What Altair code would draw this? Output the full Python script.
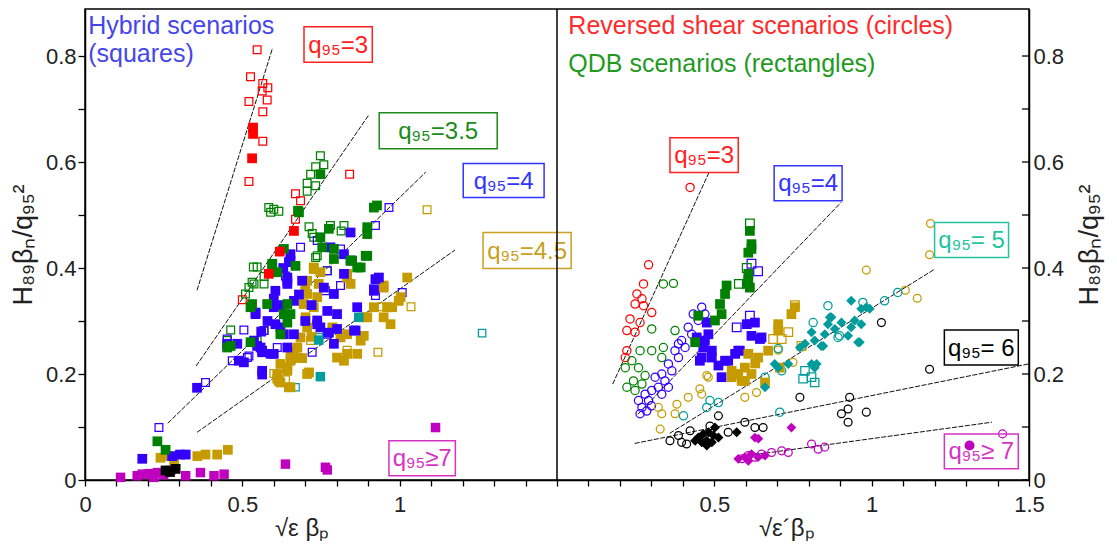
import altair as alt
import pandas as pd

FONT = "Liberation Sans"
PW, H = 472, 471            # one panel width, plot height
W = 2 * PW
XMAX, YMAX = 3.0, 0.8887    # two panels of 0..1.5 side by side
SHIFT = 1.5                 # right panel is drawn 1.5 units to the right

RED, GREEN, BLUE, GOLD = "#ff0000", "#008000", "#3300ff", "#c59b00"
TEAL, MAG, BLACK = "#009c9c", "#bf00bf", "#000000"

# ---------------- left panel (hybrid, squares) ----------------
L_red_open = [(0.547,0.812),(0.526,0.761),(0.565,0.748),(0.581,0.740),(0.563,0.734),(0.579,0.717),
              (0.521,0.714),(0.565,0.695),(0.565,0.639),(0.521,0.563),(0.841,0.577),(0.669,0.540),
              (0.685,0.527),(0.669,0.492),(0.500,0.340)]
L_red_fill = [(0.534,0.653),(0.534,0.665),(0.531,0.607),(0.664,0.470),(0.619,0.431),(0.584,0.389)]
L_green_open = [(0.748,0.612),(0.759,0.595),(0.733,0.591),(0.717,0.577),(0.706,0.560),(0.733,0.555),
                (0.706,0.545),(0.584,0.514),(0.600,0.511),(0.616,0.507),(0.590,0.505),(0.712,0.478),
                (0.780,0.480),(0.814,0.470),(0.727,0.458),(0.733,0.420),(0.547,0.402),(0.569,0.384),
                (0.531,0.373),(0.521,0.363),(0.510,0.351),(0.463,0.283),(0.569,0.282),(0.547,0.263),
                (0.452,0.263),(0.722,0.465),(0.823,0.480),(0.738,0.423),(0.770,0.395),(0.535,0.402),
                (0.537,0.370),(0.569,0.370)]
L_green_fill = [(0.748,0.577),(0.680,0.505),(0.775,0.474),(0.748,0.458),(0.918,0.514),(0.897,0.464),
                (0.897,0.423),(0.849,0.414),(0.876,0.401),(0.791,0.417),(0.754,0.439),(0.632,0.436),
                (0.595,0.404),(0.611,0.392),(0.531,0.332),(0.526,0.260),(0.643,0.332),(0.632,0.313),
                (0.643,0.297),(0.621,0.275),(0.463,0.253),(0.928,0.518),(0.677,0.508),(0.897,0.477),
                (0.595,0.408),(0.452,0.250),(0.230,0.073),(0.256,0.057),(0.791,0.436),(0.844,0.414),
                (0.892,0.423),(0.865,0.401),(0.669,0.404),(0.526,0.326),(0.653,0.313),(0.579,0.332)]
L_blue_fill = [(0.356,0.174),(0.182,0.040),(0.277,0.045),(0.302,0.048),(0.320,0.048),(0.563,0.199),
               (0.489,0.225),(0.452,0.253),(0.484,0.257),(0.547,0.253),(0.563,0.244),(0.542,0.316),
               (0.600,0.342),(0.648,0.411),(0.605,0.294),(0.632,0.275),(0.600,0.238),(0.643,0.370),
               (0.537,0.263),(0.563,0.241),(0.542,0.313),(0.600,0.326),(0.605,0.357),(0.643,0.376),
               (0.664,0.338),(0.621,0.288),(0.664,0.275),(0.643,0.250),(0.590,0.238),(0.690,0.376),
               (0.759,0.363),(0.791,0.351),(0.738,0.301),(0.748,0.288),(0.801,0.313),(0.823,0.426),
               (0.844,0.467),(0.653,0.426),(0.844,0.414),(0.865,0.326),(0.860,0.282),(0.934,0.382),
               (0.918,0.357),(0.823,0.389),(0.791,0.257),(0.563,0.206),(0.505,0.222),(0.452,0.257),
               (0.923,0.379),(0.918,0.360),(0.801,0.285),(0.775,0.278),(0.738,0.294),(0.770,0.319),
               (0.653,0.414),(0.643,0.382),(0.558,0.250),(0.855,0.282),(0.780,0.439),(0.620,0.330),
               (0.580,0.300),(0.700,0.300),(0.680,0.350),(0.720,0.330),(0.560,0.280),(0.630,0.400)]
L_blue_open = [(0.235,0.099),(0.383,0.184),(0.505,0.283),(0.468,0.225),(0.516,0.231),(0.452,0.266),
               (0.637,0.385),(0.966,0.514),(0.923,0.480),(0.685,0.439),(0.738,0.452),(0.812,0.436),
               (0.770,0.395),(0.764,0.357),(0.812,0.367),(1.008,0.354),(0.923,0.348),(0.722,0.241),
               (0.770,0.275),(0.611,0.250),(0.521,0.234),(0.569,0.282)]
L_gold_fill = [(0.240,0.042),(0.283,0.036),(0.357,0.045),(0.383,0.048),(0.420,0.048),(0.454,0.057),
               (0.621,0.219),(0.653,0.225),(0.611,0.191),(0.648,0.175),(0.664,0.244),(0.727,0.398),
               (0.748,0.392),(0.706,0.376),(0.743,0.370),(0.706,0.351),(0.738,0.345),(0.695,0.332),
               (0.727,0.326),(0.701,0.307),(0.706,0.288),(0.685,0.269),(0.675,0.250),(0.653,0.238),
               (0.643,0.206),(0.616,0.187),(0.653,0.175),(0.706,0.200),(0.833,0.389),(0.844,0.370),
               (0.812,0.269),(0.833,0.275),(0.876,0.263),(0.865,0.238),(0.833,0.238),(0.801,0.231),
               (0.897,0.307),(0.949,0.363),(0.960,0.326),(0.971,0.294),(1.024,0.382),(1.003,0.345),
               (0.786,0.288),(0.997,0.338),(0.976,0.326),(0.918,0.326),(0.949,0.307),(0.886,0.307),
               (0.886,0.272),(0.823,0.225),(0.643,0.213),(0.611,0.200),(0.621,0.184),(0.712,0.203),
               (0.675,0.231),(0.727,0.401),(0.833,0.382),(0.949,0.367),(0.270,0.045),(0.690,0.230),
               (0.720,0.270),(0.700,0.360)]
L_gold_open = [(1.087,0.510),(1.036,0.327),(0.931,0.241),(0.944,0.327),(0.833,0.245),(0.717,0.263),
               (0.801,0.313),(0.600,0.201),(0.637,0.189),(0.759,0.363)]
L_teal_fill = [(0.748,0.195),(0.870,0.307),(0.743,0.264)]
L_teal_open = [(1.262,0.277),(0.669,0.175),(0.743,0.269)]
L_mag_fill = [(0.113,0.005),(0.166,0.008),(0.182,0.011),(0.198,0.011),(0.219,0.005),(0.230,0.014),
              (0.272,0.018),(0.320,0.008),(0.367,0.014),(0.410,0.008),(0.442,0.011),(0.637,0.030),
              (0.764,0.024),(0.770,0.019),(1.114,0.099),(0.205,0.012),(0.250,0.010)]
L_black_fill = [(0.256,0.018),(0.288,0.021),(0.270,0.015)]

# ---------------- right panel (reversed shear circles, QDB rectangles) ----------------
R_red_circ = [(0.423,0.552),(0.291,0.406),(0.275,0.370),(0.254,0.351),(0.270,0.342),(0.248,0.332),
              (0.275,0.329),(0.301,0.316),(0.232,0.304),(0.264,0.297),(0.222,0.282),(0.248,0.279),
              (0.222,0.244),(0.217,0.231)]
R_green_circ = [(0.338,0.370),(0.370,0.371),(0.301,0.285),(0.375,0.282),(0.338,0.250),(0.301,0.244),
                (0.264,0.244),(0.333,0.231),(0.238,0.225),(0.217,0.212),(0.259,0.212),(0.280,0.197),
                (0.243,0.187),(0.222,0.175),(0.248,0.169),(0.270,0.181)]
R_blue_circ = [(0.460,0.326),(0.433,0.313),(0.449,0.301),(0.417,0.288),(0.428,0.275),(0.396,0.263),
               (0.407,0.250),(0.375,0.244),(0.386,0.231),(0.354,0.219),(0.365,0.206),(0.333,0.200),
               (0.343,0.187),(0.312,0.194),(0.322,0.175),(0.301,0.169),(0.280,0.162),(0.291,0.150),
               (0.259,0.150),(0.270,0.137),(0.264,0.125),(0.333,0.162),(0.354,0.175),(0.386,0.257),
               (0.470,0.313),(0.300,0.140),(0.285,0.130)]
R_blue_sq_fill = [(0.476,0.297),(0.481,0.275),(0.465,0.250),(0.460,0.231),(0.492,0.231),(0.513,0.216),
                  (0.534,0.225),(0.566,0.238),(0.581,0.244),(0.618,0.272),(0.629,0.297),(0.645,0.266),
                  (0.603,0.294),(0.523,0.194),(0.444,0.269),(0.470,0.263),(0.492,0.244),(0.454,0.225),
                  (0.650,0.269),(0.576,0.244),(0.544,0.225)]
R_blue_sq_open = [(0.618,0.408),(0.639,0.394),(0.571,0.288),(0.613,0.310)]
R_green_sq_fill = [(0.613,0.470),(0.618,0.436),(0.608,0.429),(0.539,0.367),(0.608,0.376),(0.613,0.363),
                   (0.608,0.389),(0.603,0.370),(0.534,0.351),(0.518,0.332),(0.523,0.313),(0.502,0.301),
                   (0.449,0.310),(0.439,0.260),(0.618,0.445)]
R_green_sq_open = [(0.613,0.484),(0.603,0.400),(0.578,0.370)]
R_gold_sq_fill = [(0.756,0.326),(0.745,0.313),(0.703,0.294),(0.703,0.282),(0.671,0.244),(0.639,0.231),
                  (0.608,0.238),(0.597,0.212),(0.576,0.200),(0.618,0.200),(0.597,0.187),(0.555,0.206),
                  (0.661,0.184),(0.708,0.212),(0.555,0.194),(0.587,0.187),(0.630,0.220)]
R_gold_sq_open = [(0.756,0.330),(0.735,0.279),(0.714,0.266),(0.687,0.266),(0.777,0.253)]
R_gold_circ = [(1.187,0.484),(1.184,0.425),(0.983,0.396),(1.107,0.358),(1.145,0.343),(0.750,0.222),
               (0.703,0.245),(0.597,0.156),(0.634,0.165),(0.481,0.194),(0.454,0.172),(0.476,0.197),
               (0.460,0.162),(0.417,0.156),(0.381,0.143),(0.375,0.125),(0.322,0.137),(0.333,0.125),
               (0.328,0.096)]
R_teal_dia = [(0.935,0.338),(0.967,0.323),(0.983,0.326),(0.946,0.301),(0.967,0.294),(0.935,0.288),
              (0.925,0.272),(0.957,0.260),(0.872,0.307),(0.861,0.294),(0.883,0.285),(0.851,0.275),
              (0.809,0.279),(0.840,0.253),(0.819,0.263),(0.788,0.257),(0.772,0.250),(0.809,0.219),
              (0.819,0.212),(0.703,0.212),(0.661,0.175),(0.904,0.297),(0.994,0.323),(0.962,0.260),
              (0.846,0.253),(0.867,0.307),(0.825,0.219),(0.735,0.219),(0.692,0.219)]
R_teal_circ = [(0.861,0.329),(0.972,0.335),(1.041,0.338),(1.083,0.354),(0.893,0.269),(0.814,0.297),
               (0.714,0.206),(0.708,0.128),(0.486,0.150),(0.513,0.146),(0.476,0.137),(0.898,0.272),
               (0.402,0.121),(0.661,0.194),(0.703,0.248)]
R_teal_sq_open = [(0.788,0.206),(0.809,0.194),(0.782,0.191),(0.819,0.184)]
R_black_circ = [(0.359,0.074),(0.386,0.084),(0.396,0.071),(0.423,0.093),(0.412,0.068),(0.486,0.102),
                (0.513,0.121),(0.544,0.090),(0.597,0.109),(0.629,0.099),(0.655,0.099),(0.772,0.156),
                (1.031,0.297),(1.184,0.209),(0.930,0.156),(0.983,0.128),(0.925,0.134),(0.904,0.125),
                (0.925,0.109)]
R_black_dia = [(0.449,0.080),(0.465,0.087),(0.481,0.090),(0.497,0.084),(0.513,0.080),(0.476,0.074),
               (0.460,0.071),(0.492,0.071),(0.476,0.065),(0.439,0.074),(0.571,0.090),(0.502,0.099)]
R_mag_circ = [(0.587,0.040),(0.608,0.046),(0.629,0.043),(0.650,0.049),(0.682,0.052),(0.714,0.055),
              (0.735,0.052),(0.809,0.068),(0.830,0.058),(0.851,0.062),(1.416,0.087)]
R_mag_dia = [(0.576,0.040),(0.597,0.043),(0.618,0.049),(0.639,0.043),(0.661,0.046),(0.629,0.080),
             (0.745,0.099),(0.608,0.036),(0.640,0.078)]
R_mag_dot = [(1.311,0.065)]

# fitted scaling lines (end points)
L_fit_ids = ["3", "3", "3.5", "3.5", "4", "4", "4.5", "4.5"]
L_fit_x = [0.356, 0.596, 0.353, 0.901, 0.263, 1.083, 0.356, 1.176]
L_fit_y = [0.358, 0.815, 0.215, 0.688, 0.107, 0.581, 0.090, 0.434]
R_fit_ids = ["3", "3", "4", "4", "5", "5", "6", "6", "7", "7"]
R_fit_x = [0.177, 0.482, 0.257, 0.903, 0.358, 1.201, 0.247, 1.499, 0.580, 1.382]
R_fit_y = [0.181, 0.579, 0.124, 0.524, 0.088, 0.398, 0.069, 0.219, 0.044, 0.109]

# boxed labels
L_box_text = ["q₉₅=3", "q₉₅=3.5", "q₉₅=4", "q₉₅=4.5", "q₉₅≥7"]
L_box_color = ["#ff2020", "#1a8c1a", "#3333ff", "#c8a020", "#d633c4"]
L_box_x0 = [0.696, 0.935, 1.202, 1.265, 0.966]
L_box_x1 = [0.913, 1.310, 1.459, 1.545, 1.177]
L_box_y0 = [0.788, 0.625, 0.533, 0.399, 0.008]
L_box_y1 = [0.855, 0.693, 0.597, 0.467, 0.074]
R_box_text = ["q₉₅=3", "q₉₅=4", "q₉₅= 5", "q₉₅= 6", "q₉₅≥ 7"]
R_box_color = ["#ff2020", "#3333ff", "#22c4a0", "#000000", "#d633c4"]
R_box_x0 = [0.359, 0.690, 1.200, 1.231, 1.231]
R_box_x1 = [0.576, 0.906, 1.435, 1.466, 1.466]
R_box_y0 = [0.580, 0.527, 0.420, 0.217, 0.021]
R_box_y1 = [0.646, 0.593, 0.486, 0.283, 0.087]

L_head_text = ["Hybrid scenarios", "(squares)"]
L_head_color = ["#4646ec", "#4646ec"]
L_head_x = [0.010, 0.010]
L_head_y = [0.8415, 0.788]
R_head_text = ["Reversed shear scenarios (circles)", "QDB scenarios (rectangles)"]
R_head_color = ["#ff2a2a", "#1f9a1f"]
R_head_x = [0.036, 0.036]
R_head_y = [0.8415, 0.769]

X_TITLES = ["√ε βₚ", "√ε´βₚ"]
X_TITLE_POS = [0.69, 0.73]     # centre of each title in its own panel's units

X_TICKS = [0, 0.1, 0.2, 0.3, 0.4, 0.5, 0.6, 0.7, 0.8, 0.9, 1, 1.1, 1.2, 1.3, 1.4, 1.5,
           1.6, 1.7, 1.8, 1.9, 2, 2.1, 2.2, 2.3, 2.4, 2.5, 2.6, 2.7, 2.8, 2.9, 3]
Y_TICKS = [0, 0.1, 0.2, 0.3, 0.4, 0.5, 0.6, 0.7, 0.8]
Y_TITLE = "H₈₉βₙ/q₉₅²"

XLABEL_EXPR = ("datum.value == 0 ? '0' : datum.value == 0.5 ? '0.5' : datum.value == 1 ? '1' : "
               "datum.value == 2 ? '0.5' : datum.value == 2.5 ? '1' : datum.value == 3 ? '1.5' : ''")
YLABEL_EXPR = ("(datum.value == 0 || datum.value == 0.2 || datum.value == 0.4 || "
               "datum.value == 0.6 || datum.value == 0.8) ? datum.label : ''")

XS = alt.Scale(domain=[0, XMAX], nice=False, zero=False)
YS = alt.Scale(domain=[0, YMAX], nice=False, zero=False)
COMMON = dict(grid=False, domainColor="black", domainWidth=1.5, tickColor="black", tickWidth=1.3,
              labelFont=FONT, titleFont=FONT, labelColor="#222222", titleColor="#222222",
              labelFontSize=22, labelOverlap=False, labelFlush=False)
AX = alt.Axis(values=X_TICKS, labelExpr=XLABEL_EXPR, title=None, tickSize=6, labelPadding=8, **COMMON)
AY_L = alt.Axis(values=Y_TICKS, format=".1~f", labelExpr=YLABEL_EXPR, title=Y_TITLE, titleFontSize=27,
                titleFontWeight="normal", orient="left", tickSize=7, labelPadding=2, titlePadding=8,
                **COMMON)
AY_R = alt.Axis(values=Y_TICKS, format=".1~f", labelExpr=YLABEL_EXPR, title=Y_TITLE, titleFontSize=27,
                titleFontWeight="normal", orient="right", ticks=False, labelPadding=4, titlePadding=13,
                titleAngle=270, titleBaseline="top", **COMMON)


def X(f):
    return alt.X(f"{f}:Q", scale=XS, axis=AX)


def Y(f):
    return alt.Y(f"{f}:Q", scale=YS, axis=AY_L)


def rows(points, color, shape, filled, size):
    return [dict(x=a, y=b, color=color, shape=shape, filled=filled, size=size) for a, b in points]


def panel_layers(point_rows, fit_ids, fit_x, fit_y, box_text, box_color, bx0, bx1, by0, by1,
                 head_text, head_color, hx, hy, shift):
    pdf = pd.DataFrame(point_rows)
    base = alt.Chart(pdf).transform_calculate(px=f"datum.x + {shift}").encode(
        x=X("px"), y=Y("y"),
        shape=alt.Shape("shape:N", scale=None),
        size=alt.Size("size:Q", scale=None),
    )
    open_pts = base.transform_filter("!datum.filled").mark_point(
        filled=False, strokeWidth=1.25, opacity=1).encode(stroke=alt.Stroke("color:N", scale=None))
    fill_pts = base.transform_filter("datum.filled").mark_point(
        filled=True, opacity=1).encode(fill=alt.Fill("color:N", scale=None))

    fdf = pd.DataFrame(dict(id=fit_ids, x=fit_x, y=fit_y))
    fits = alt.Chart(fdf).transform_calculate(px=f"datum.x + {shift}").mark_line(
        color="#111111", strokeWidth=1, strokeDash=[5, 1.5]).encode(x=X("px"), y=Y("y"), detail="id:N")

    bdf = pd.DataFrame(dict(t=box_text, c=box_color, x0=bx0, x1=bx1, y0=by0, y1=by1))
    bbase = alt.Chart(bdf).transform_calculate(
        px0=f"datum.x0 + {shift}", px1=f"datum.x1 + {shift}",
        pxm=f"(datum.x0 + datum.x1) / 2 + {shift}", ym="(datum.y0 + datum.y1) / 2")
    boxes = bbase.mark_rect(fillOpacity=0, strokeWidth=1.5).encode(
        x=X("px0"), x2="px1", y=Y("y0"), y2="y1", stroke=alt.Stroke("c:N", scale=None))
    btext = bbase.mark_text(font=FONT, fontSize=24, align="center", baseline="middle", dy=1).encode(
        x=X("pxm"), y=Y("ym"), text="t:N", color=alt.Color("c:N", scale=None))

    hdf = pd.DataFrame(dict(t=head_text, c=head_color, x=hx, y=hy))
    htext = alt.Chart(hdf).transform_calculate(px=f"datum.x + {shift}").mark_text(
        font=FONT, fontSize=25, align="left", baseline="alphabetic").encode(
        x=X("px"), y=Y("y"), text="t:N", color=alt.Color("c:N", scale=None))
    return [fits, open_pts, fill_pts, boxes, btext, htext]


left_rows = (rows(L_red_open, RED, "square", False, 60) + rows(L_green_open, GREEN, "square", False, 60)
             + rows(L_blue_open, BLUE, "square", False, 60) + rows(L_gold_open, GOLD, "square", False, 60)
             + rows(L_teal_open, TEAL, "square", False, 55)
             + rows(L_gold_fill, GOLD, "square", True, 95) + rows(L_blue_fill, BLUE, "square", True, 95)
             + rows(L_green_fill, GREEN, "square", True, 95) + rows(L_red_fill, RED, "square", True, 95)
             + rows(L_teal_fill, TEAL, "square", True, 90) + rows(L_mag_fill, MAG, "square", True, 90)
             + rows(L_black_fill, BLACK, "square", True, 95))

right_rows = (rows(R_red_circ, RED, "circle", False, 68) + rows(R_green_circ, GREEN, "circle", False, 68)
              + rows(R_blue_circ, BLUE, "circle", False, 68) + rows(R_gold_circ, GOLD, "circle", False, 62)
              + rows(R_teal_circ, TEAL, "circle", False, 68) + rows(R_black_circ, BLACK, "circle", False, 62)
              + rows(R_mag_circ, MAG, "circle", False, 62)
              + rows(R_blue_sq_open, BLUE, "square", False, 75) + rows(R_green_sq_open, GREEN, "square", False, 75)
              + rows(R_gold_sq_open, GOLD, "square", False, 75) + rows(R_teal_sq_open, TEAL, "square", False, 70)
              + rows(R_blue_sq_fill, BLUE, "square", True, 95) + rows(R_green_sq_fill, GREEN, "square", True, 95)
              + rows(R_gold_sq_fill, GOLD, "square", True, 95)
              + rows(R_teal_dia, TEAL, "diamond", True, 100) + rows(R_black_dia, BLACK, "diamond", True, 100)
              + rows(R_mag_dia, MAG, "diamond", True, 95) + rows(R_mag_dot, MAG, "circle", True, 100))

layers = panel_layers(left_rows, L_fit_ids, L_fit_x, L_fit_y, L_box_text, L_box_color, L_box_x0, L_box_x1,
                      L_box_y0, L_box_y1, L_head_text, L_head_color, L_head_x, L_head_y, 0)
layers += panel_layers(right_rows, R_fit_ids, R_fit_x, R_fit_y, R_box_text, R_box_color, R_box_x0, R_box_x1,
                       R_box_y0, R_box_y1, R_head_text, R_head_color, R_head_x, R_head_y, SHIFT)

# divider between the two panels
divider = alt.Chart(pd.DataFrame(dict(d=[SHIFT]))).mark_rule(color="black", strokeWidth=1.5).encode(
    x=X("d"), y=alt.value(0), y2=alt.value(H))

# x-axis titles (one per panel), just below the tick labels
tdf = pd.DataFrame(dict(t=X_TITLES, x=X_TITLE_POS, s=[0, SHIFT]))
xtitles = alt.Chart(tdf).transform_calculate(px="datum.x + datum.s").mark_text(
    font=FONT, fontSize=24, align="center", baseline="middle", color="#222222").encode(
    x=X("px"), y=alt.value(H + 49), text="t:N")

main = alt.layer(*layers, divider, xtitles)

# right-hand y axis with inward ticks
rticks = alt.Chart(pd.DataFrame(dict(t=Y_TICKS))).mark_rule(color="black", strokeWidth=1.3).encode(
    y=alt.Y("t:Q", scale=YS, axis=AY_R), x=alt.value(W - 7), x2=alt.value(W))

chart = alt.layer(main, rticks).resolve_scale(y="independent").properties(
    width=W, height=H, background="white",
    padding={"left": 1, "top": 0, "right": 2, "bottom": 0}
).configure_view(stroke="black", strokeWidth=1.5).configure_axis(
    grid=False, titleFontWeight="normal"
)

chart.save("out.html", embed_options={"renderer": "svg", "actions": False})
